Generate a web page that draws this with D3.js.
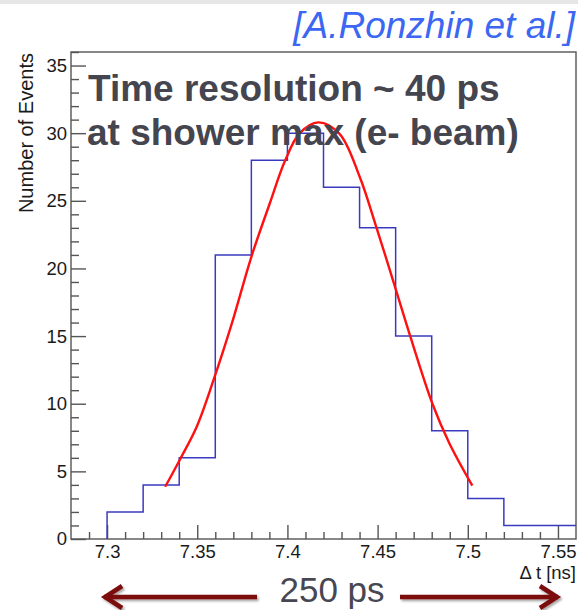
<!DOCTYPE html>
<html>
<head>
<meta charset="utf-8">
<script src="https://cdn.jsdelivr.net/npm/d3@7"></script>
<style>
  html, body { margin: 0; padding: 0; background: #ffffff; }
  svg { display: block; }
  text { font-family: "Liberation Sans", Arial, Helvetica, sans-serif; }
</style>
</head>
<body>
<svg id="chart" width="578" height="610"></svg>
<script>
// ---- data ----
const binStarts = [7.30, 7.32, 7.34, 7.36, 7.38, 7.40, 7.42, 7.44, 7.46, 7.48, 7.50, 7.52, 7.54];
const binCounts = [2, 4, 6, 21, 28, 30, 26, 23, 15, 8, 3, 1, 1];
const binUpperEdge = 7.56;

// Gaussian fit curve
const fitX = [7.3322, 7.3405, 7.3497, 7.3589, 7.3691, 7.3801, 7.3902, 7.3985, 7.4068, 7.4172, 7.4289, 7.4400, 7.4492, 7.4602, 7.4676, 7.4804, 7.4897, 7.5025];
const fitY = [3.86, 5.9, 8.3, 11.7, 15.9, 20.9, 24.8, 27.9, 30.0, 30.8, 29.95, 26.8, 23.1, 18.4, 15.2, 10.0, 7.1, 3.95];

const xTickValues = [7.30, 7.35, 7.40, 7.45, 7.50, 7.55];
const xTickLabels = ["7.3", "7.35", "7.4", "7.45", "7.5", "7.55"];
const xMinorTicks = [7.29, 7.31, 7.32, 7.33, 7.34, 7.36, 7.37, 7.38, 7.39, 7.41, 7.42, 7.43, 7.44, 7.46, 7.47, 7.48, 7.49, 7.51, 7.52, 7.53, 7.54];
const yTickValues = [0, 5, 10, 15, 20, 25, 30, 35];
const yMinorTicks = [1,2,3,4,6,7,8,9,11,12,13,14,16,17,18,19,21,22,23,24,26,27,28,29,31,32,33,34,36];

const xDomain = [7.28, 7.56];
const yDomain = [0, 36];

const titleLines = ["Time resolution ~ 40 ps", "at shower max (e- beam)"];
const authorText = "[A.Ronzhin et al.]";
const xAxisTitle = "\u0394 t [ns]";
const yAxisTitle = "Number of Events";
const spanLabel = "250 ps";
const spanRange = [7.30, 7.55];

// ---- layout ----
const svg = d3.select("#chart");
const L = 71, R = 576, T = 52, B = 539;

const x = d3.scaleLinear().domain(xDomain).range([L, R]);
const y = d3.scaleLinear().domain(yDomain).range([B, T]);

const axisColor = "#555";

// defs: shadow for arrows
const defs = svg.append("defs");
const f = defs.append("filter").attr("id", "shadow").attr("x", "-10%").attr("y", "-50%").attr("width", "120%").attr("height", "200%");
f.append("feDropShadow").attr("dx", 1.5).attr("dy", 2).attr("stdDeviation", 1.2).attr("flood-color", "#000").attr("flood-opacity", 0.35);

// top slide strip
svg.append("rect").attr("x", 0).attr("y", 0).attr("width", 578).attr("height", 4).attr("fill", "#e6e6e6");

// frame
svg.append("rect").attr("x", L).attr("y", T).attr("width", R - L).attr("height", B - T)
  .attr("fill", "none").attr("stroke", axisColor).attr("stroke-width", 1.4);

// x axis
const gx = svg.append("g").attr("transform", `translate(0,${B})`);
gx.call(d3.axisBottom(x).tickValues(xTickValues).tickSize(-14).tickPadding(6)
  .tickFormat((d, i) => xTickLabels[i]));
const gxm = svg.append("g").attr("transform", `translate(0,${B})`);
gxm.call(d3.axisBottom(x).tickValues(xMinorTicks).tickSize(-7).tickFormat(""));

// y axis
const gy = svg.append("g").attr("transform", `translate(${L},0)`);
gy.call(d3.axisLeft(y).tickValues(yTickValues).tickSize(-15).tickPadding(4));
const gym = svg.append("g").attr("transform", `translate(${L},0)`);
gym.call(d3.axisLeft(y).tickValues(yMinorTicks).tickSize(-8).tickFormat(""));

[gx, gxm, gy, gym].forEach(g => {
  g.select(".domain").remove();
  g.selectAll(".tick line").attr("stroke", axisColor).attr("stroke-width", 1.4);
  g.selectAll(".tick text").attr("fill", "#1a1a1a").style("font-size", "18.5px")
    .style("font-family", "'Liberation Sans', Arial, sans-serif");
});

// axis titles
svg.append("text").attr("x", R).attr("y", 579).attr("text-anchor", "end")
  .attr("fill", "#1a1a1a").style("font-size", "18.5px").text(xAxisTitle);
svg.append("text").attr("transform", `translate(33,${T + 1}) rotate(-90)`)
  .attr("text-anchor", "end").attr("fill", "#1a1a1a").style("font-size", "20px").text(yAxisTitle);

// histogram
const histPts = [{x: binStarts[0], y: 0}]
  .concat(binStarts.map((b, i) => ({x: b, y: binCounts[i]})))
  .concat([{x: binUpperEdge, y: binCounts[binCounts.length - 1]}]);
const histLine = d3.line().x(d => x(d.x)).y(d => y(d.y)).curve(d3.curveStepAfter);
svg.append("path").attr("d", histLine(histPts)).attr("fill", "none")
  .attr("stroke", "#3a3ac0").attr("stroke-width", 1.5);

// fit
const fitLine = d3.line().x(d => x(d[0])).y(d => y(d[1])).curve(d3.curveCatmullRom.alpha(0.5));
svg.append("path").attr("d", fitLine(fitX.map((v, i) => [v, fitY[i]]))).attr("fill", "none")
  .attr("stroke", "#ff1010").attr("stroke-width", 2.4);

// title text
svg.append("text").attr("x", 88).attr("y", 101).attr("fill", "#45454f")
  .style("font-size", "37px").style("font-weight", "bold").text(titleLines[0]);
svg.append("text").attr("x", 87).attr("y", 145).attr("fill", "#45454f")
  .style("font-size", "37px").style("font-weight", "bold").text(titleLines[1]);

// author
svg.append("text").attr("x", 575).attr("y", 38).attr("text-anchor", "end").attr("fill", "#3b67f2")
  .style("font-size", "37px").style("font-style", "italic").text(authorText);

// span arrows
const ay = 597;
const arrowColor = "#7c0a0a";
const ga = svg.append("g").attr("filter", "url(#shadow)").attr("fill", "none")
  .attr("stroke", arrowColor).attr("stroke-width", 4.5).attr("stroke-linecap", "butt");
const xl = x(spanRange[0]) - 3, xr = x(spanRange[1]);
ga.append("path").attr("d", `M${xl},${ay} L257,${ay}`);
ga.append("path").attr("d", `M${xl + 18},${ay - 11} L${xl + 1},${ay} L${xl + 18},${ay + 11}`);
ga.append("path").attr("d", `M400,${ay} L${xr},${ay}`);
ga.append("path").attr("d", `M${xr - 18},${ay - 11} L${xr - 1},${ay} L${xr - 18},${ay + 11}`);

svg.append("text").attr("x", 332).attr("y", 602).attr("text-anchor", "middle").attr("fill", "#474752")
  .style("font-size", "35px").text(spanLabel);
</script>
</body>
</html>
